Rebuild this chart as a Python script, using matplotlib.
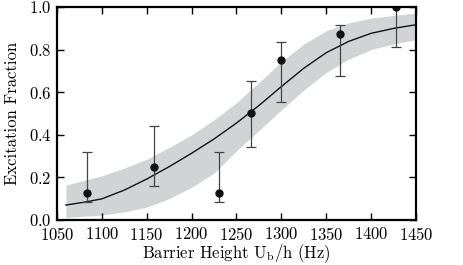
import numpy as np
import matplotlib
matplotlib.use('Agg')
from matplotlib import pyplot as plt

plt.rcParams['font.family'] = 'serif'
plt.rcParams['font.serif'] = ['cmr10', 'DejaVu Serif']
plt.rcParams['mathtext.fontset'] = 'cm'
plt.rcParams['axes.formatter.use_mathtext'] = True

# measured points (fraction excited) with asymmetric errors
barrier = [1083.8, 1158.4, 1230.8, 1265.8, 1299.6, 1365.7, 1427.4]
frac = [0.125, 0.25, 0.125, 0.5, 0.75, 0.875, 1.0]
err_lo = [0.042, 0.09, 0.042, 0.156, 0.195, 0.20, 0.189]
err_hi = [0.195, 0.191, 0.195, 0.154, 0.087, 0.042, 0.04]

# model curve and shaded band
model_x = [1060, 1080, 1100, 1125, 1150, 1175, 1200, 1225, 1250, 1275,
           1300, 1325, 1350, 1375, 1400, 1425, 1448]
model_y = [0.070, 0.083, 0.099, 0.14, 0.192, 0.25, 0.313, 0.38, 0.455, 0.537,
           0.626, 0.712, 0.785, 0.838, 0.876, 0.899, 0.915]
band_lo = [0.012, 0.017, 0.023, 0.038, 0.06, 0.10, 0.153, 0.22, 0.325, 0.42,
           0.516, 0.61, 0.692, 0.755, 0.80, 0.826, 0.845]
band_hi = [0.164, 0.185, 0.207, 0.243, 0.285, 0.34, 0.399, 0.47, 0.55, 0.645,
           0.743, 0.825, 0.888, 0.925, 0.947, 0.96, 0.97]

fig = plt.figure(figsize=(4.63, 2.65), dpi=100)
ax = fig.add_axes([0.123, 0.170, 0.7755, 0.804])

ax.fill_between(model_x, band_lo, band_hi, color='#d2d3d5', lw=0)
ax.plot(model_x, model_y, color='#111111', lw=1.0)
ax.errorbar(barrier, frac, yerr=[err_lo, err_hi], fmt='o', color='#111111',
            ecolor='#444444', elinewidth=0.9, capsize=3.6, capthick=0.9, ms=5)

ax.set_xlim(1050, 1450)
ax.set_ylim(0, 1.0)
ax.set_xticks(np.arange(1050, 1451, 50))
ax.set_yticks([0.0, 0.2, 0.4, 0.6, 0.8, 1.0])
ax.tick_params(direction='in', top=True, right=True, length=5, width=1,
               labelsize=12, pad=4)
for s in ax.spines.values():
    s.set_linewidth(1.6)

ax.set_xlabel(r'Barrier Height U$_{\mathrm{b}}$/h (Hz)', fontsize=12, labelpad=0)
ax.set_ylabel('Excitation Fraction', fontsize=12, labelpad=6)

fig.savefig('out.png', dpi=100)
